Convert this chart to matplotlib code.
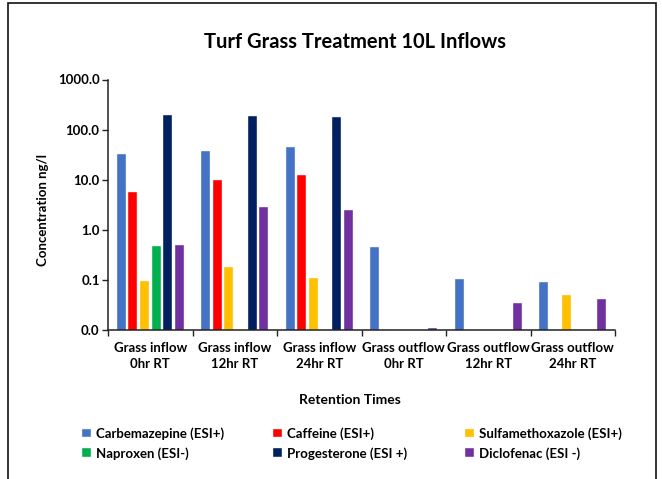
import numpy as np
import matplotlib
matplotlib.use("Agg")
import matplotlib.pyplot as plt
from matplotlib.ticker import FixedLocator, FuncFormatter, NullFormatter
from matplotlib.patches import Rectangle

# Sampling points (retention times)
categories = [
    "Grass inflow\n0hr RT", "Grass inflow\n12hr RT", "Grass inflow\n24hr RT",
    "Grass outflow\n0hr RT", "Grass outflow\n12hr RT", "Grass outflow\n24hr RT",
]

# Concentrations in ng/l (nan = not detected)
carbemazepine = [32.0, 37.0, 45.0, 0.46, 0.103, 0.090]
caffeine = [5.8, 10.0, 12.5, np.nan, np.nan, np.nan]
sulfamethoxazole = [0.097, 0.18, 0.108, np.nan, np.nan, 0.049]
naproxen = [0.485, np.nan, np.nan, np.nan, np.nan, np.nan]
progesterone = [192.0, 183.0, 175.0, np.nan, np.nan, np.nan]
diclofenac = [0.50, 2.9, 2.54, 0.0112, 0.035, 0.042]

series_names = [
    "Carbemazepine (ESI+)", "Caffeine (ESI+)", "Sulfamethoxazole (ESI+)",
    "Naproxen (ESI-)", "Progesterone (ESI +)", "Diclofenac (ESI -)",
]
series_values = [carbemazepine, caffeine, sulfamethoxazole,
                 naproxen, progesterone, diclofenac]
colors = ["#4472C4", "#FF0000", "#FFC000", "#00B050", "#002060", "#7030A0"]

y_ticks = [0.01, 0.1, 1, 10, 100, 1000]

plt.rcParams["font.family"] = ["Lato", "DejaVu Sans"]
plt.rcParams["font.weight"] = "bold"

W, H = 662, 479
fig = plt.figure(figsize=(W / 100, H / 100), dpi=100)
fig.patch.set_facecolor("white")

ax = fig.add_axes([108 / W, 1 - 330 / H, (615 - 108) / W, (330 - 79.5) / H])
ax.set_yscale("log")

x = np.arange(len(categories))
step = 0.137
width = 0.106
containers = []
for i, (vals, col, name) in enumerate(zip(series_values, colors, series_names)):
    bc = ax.bar(x + (i - 2.5) * step, vals, width=width, color=col,
                edgecolor="#F4F4F8", linewidth=0.3, label=name)
    containers.append(bc)

ax.set_ylim(0.01, 1000)
ax.set_xlim(-0.5, len(categories) - 0.5)

ax.yaxis.set_major_locator(FixedLocator(y_ticks))
ax.yaxis.set_minor_locator(FixedLocator([]))
ax.yaxis.set_major_formatter(FuncFormatter(lambda v, p: f"{v:.1f}"))

# category boundaries carry the tick marks, labels sit at the centres
ax.xaxis.set_major_locator(FixedLocator(np.arange(-0.5, len(categories), 1.0)))
ax.xaxis.set_major_formatter(NullFormatter())
ax.xaxis.set_minor_locator(FixedLocator(x))
ax.set_xticklabels(categories, minor=True)
ax.tick_params(axis="x", which="minor", length=0, pad=9, labelsize=9.5)
ax.tick_params(axis="x", which="major", length=4, width=1, direction="out", color="#222222")
ax.tick_params(axis="y", which="major", length=4, width=1, direction="out",
               labelsize=9.5, pad=2, color="#222222")
for lbl in ax.get_xticklabels(minor=True):
    lbl.set_fontweight("bold")
    lbl.set_linespacing(1.35)
for lbl in ax.get_yticklabels():
    lbl.set_fontweight("bold")

for s in ["top", "right"]:
    ax.spines[s].set_visible(False)
for s in ["left", "bottom"]:
    ax.spines[s].set_color("#222222")
    ax.spines[s].set_linewidth(1.1)

fig.text(355 / W, 1 - 42 / H, "Turf Grass Treatment 10L Inflows",
         ha="center", va="center", fontsize=14.5, fontweight="bold")
fig.text(43 / W, 1 - 210 / H, "Concentration ng/l", rotation=90,
         ha="center", va="center", fontsize=9.5, fontweight="bold")
fig.text(350 / W, 1 - 400 / H, "Retention Times",
         ha="center", va="center", fontsize=10, fontweight="bold")

# legend: three columns of two entries each
col_x = [82, 273, 465]
for c in range(3):
    hs = [containers[c], containers[c + 3]]
    labs = [series_names[c], series_names[c + 3]]
    fig.legend(hs, labs, loc="upper left",
               bbox_to_anchor=(col_x[c] / W, 1 - 427 / H),
               frameon=False, handlelength=0.65, handleheight=0.65,
               handletextpad=0.4, labelspacing=0.55, borderpad=0, borderaxespad=0,
               prop={"weight": "bold", "size": 9.5})

# outer chart frame
fig.patches.append(Rectangle((8 / W, -0.05), (656 - 8) / W, 1.05 - 3 / H,
                             transform=fig.transFigure, fill=False,
                             edgecolor="#111111", linewidth=1.2))

fig.savefig("out.png", dpi=100)
